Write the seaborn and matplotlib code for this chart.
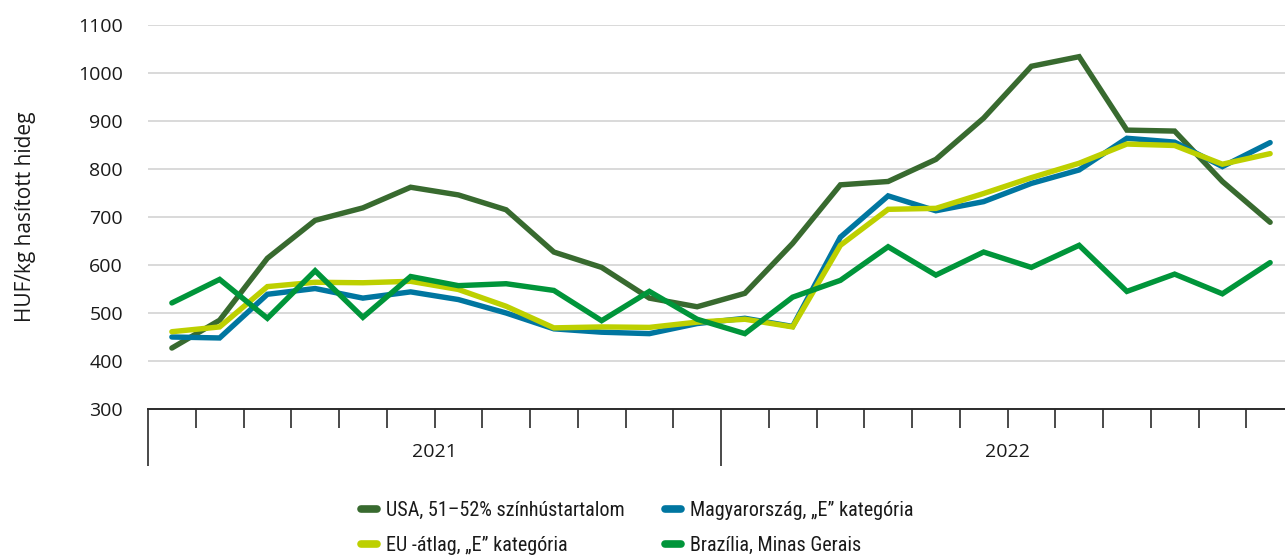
import matplotlib
matplotlib.use('Agg')
import matplotlib.pyplot as plt
import matplotlib.transforms as mtransforms
from matplotlib.lines import Line2D
import seaborn as sns
import numpy as np
import pandas as pd

# Monthly prices, Jan 2021 - Dec 2022 (HUF/kg)
years = ['2021', '2022']
months = list(range(24))

usa = [427, 485, 614, 693, 719, 762, 746, 715, 627, 595, 531, 513,
       541, 645, 767, 774, 820, 906, 1014, 1034, 881, 879, 774, 689]
hungary = [450, 448, 539, 551, 531, 544, 528, 500, 467, 460, 457, 478,
           489, 472, 658, 744, 713, 732, 770, 798, 864, 856, 805, 855]
eu_avg = [461, 471, 555, 564, 563, 566, 549, 514, 469, 471, 470, 481,
          487, 471, 641, 716, 718, 749, 782, 812, 852, 849, 810, 832]
brazil = [521, 570, 489, 588, 491, 576, 557, 561, 547, 484, 545, 487,
          457, 533, 568, 638, 579, 627, 595, 641, 545, 581, 540, 605]

labels = {
    'usa': 'USA, 51–52% színhústartalom',
    'hu': 'Magyarország, „E” kategória',
    'eu': 'EU -átlag, „E” kategória',
    'br': 'Brazília, Minas Gerais',
}
colors = {'usa': '#386a2f', 'hu': '#0076a0', 'eu': '#bdd000', 'br': '#00953a'}

df = pd.concat([
    pd.DataFrame({'month': months, 'price': usa, 'series': 'usa'}),
    pd.DataFrame({'month': months, 'price': hungary, 'series': 'hu'}),
    pd.DataFrame({'month': months, 'price': eu_avg, 'series': 'eu'}),
    pd.DataFrame({'month': months, 'price': brazil, 'series': 'br'}),
])

sns.set_style('white')
plt.rcParams['font.family'] = ['Open Sans', 'DejaVu Sans']
narrow = ['Roboto Condensed', 'Roboto', 'DejaVu Sans']

W, H = 1285, 556
fig = plt.figure(figsize=(W / 100, H / 100), dpi=100)
ax = fig.add_axes([148 / W, 1 - 409 / H, (1294 - 148) / W, (409 - 25) / H])

sns.lineplot(data=df, x='month', y='price', hue='series',
             hue_order=['usa', 'hu', 'eu', 'br'], palette=colors,
             linewidth=3.9, legend=False, ax=ax)
for ln in ax.lines:
    ln.set_solid_capstyle('round')
    ln.set_solid_joinstyle('miter')

ax.set_xlim(-0.5, 23.5)
ax.set_ylim(300, 1100)
ax.set_yticks(range(300, 1101, 100))
ax.tick_params(axis='y', length=0, pad=18, labelsize=14, labelcolor='#1a1a1a')
ax.yaxis.grid(True, color='#d9d9d9', linewidth=1.4)
ax.set_axisbelow(True)

# month boundary ticks and year separators
ax.set_xticks([-0.5, 11.5, 23.5])
ax.set_xticks(np.arange(0.5, 23, 1), minor=True)
ax.set_xticklabels([])
ax.tick_params(axis='x', which='major', length=41, width=1.2, color='#2b2b2b',
               direction='out', bottom=True)
ax.tick_params(axis='x', which='minor', length=14, width=1.2, color='#2b2b2b',
               direction='out', bottom=True)

for side in ['top', 'right', 'left']:
    ax.spines[side].set_visible(False)
ax.spines['bottom'].set_color('#2b2b2b')
ax.spines['bottom'].set_linewidth(1.4)

trans = mtransforms.blended_transform_factory(ax.transData, ax.transAxes)
for i, yr in enumerate(years):
    ax.text(5.5 + 12 * i, -0.112, yr, transform=trans, ha='center', va='center',
            fontsize=14, color='#1a1a1a')

ax.set_xlabel('')
ax.set_ylabel('HUF/kg hasított hideg', fontsize=15, color='#1a1a1a')
ax.yaxis.set_label_coords(-0.098, 0.5)

order = ['usa', 'eu', 'hu', 'br']
handles = [Line2D([0], [0], color=colors[k], linewidth=5.5, solid_capstyle='round') for k in order]
fig.legend(handles, [labels[k] for k in order], ncol=2, frameon=False,
           loc='upper left', bbox_to_anchor=(343 / W, 1 - 483 / H),
           prop={'family': narrow, 'size': 14.5}, handlelength=0.8, handletextpad=0.45,
           columnspacing=2.0, labelspacing=0.8, labelcolor='#1a1a1a')

fig.savefig('out.png', dpi=100)
